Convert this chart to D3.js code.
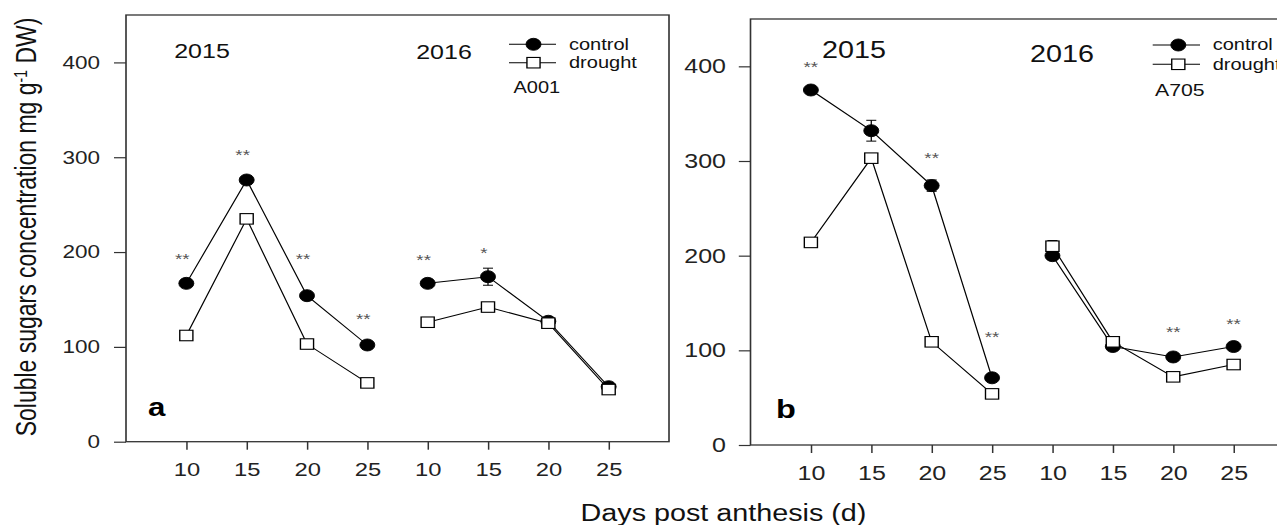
<!DOCTYPE html>
<html>
<head>
<meta charset="utf-8">
<script src="https://cdn.jsdelivr.net/npm/d3@7"></script>
<style>
  html, body { margin: 0; padding: 0; background: #fff; }
  svg { display: block; font-family: Arial, "Liberation Sans", sans-serif; }
</style>
</head>
<body>
<svg id="chart" width="1277" height="525"></svg>
<script>
// ---------------- data ----------------
const days = [10, 15, 20, 25];
const years = ["2015", "2016"];
const xTickLabels = ["10", "15", "20", "25", "10", "15", "20", "25"];
const yTicks = [0, 100, 200, 300, 400];
const seriesNames = ["control", "drought"];

// Panel a (A001): 2015 days 10-25, then 2016 days 10-25
const a_control      = [167, 276, 154, 102, 167, 174, 127, 58];
const a_controlErr   = [3, 3, 3, 3, 3, 9, 3, 2];
const a_drought      = [112, 235, 103, 62, 126, 142, 125, 55];
const a_droughtErr   = [2, 3, 2, 2, 2, 3, 3, 2];
const a_sig          = ["**", "**", "**", "**", "**", "*", "", ""];
const a_sigLevel     = [196, 306, 196, 133, 195, 202, 0, 0];

// Panel b (A705)
const b_control      = [375, 332, 274, 71, 200, 104, 93, 104];
const b_controlErr   = [3, 11, 6, 3, 3, 2, 3, 3];
const b_drought      = [214, 303, 109, 54, 210, 109, 72, 85];
const b_droughtErr   = [2, 3, 2, 2, 6, 2, 2, 2];
const b_sig          = ["**", "", "**", "**", "", "", "**", "**"];
const b_sigLevel     = [402, 0, 306, 117, 0, 0, 123, 131];

// ---------------- layout ----------------
const SX = 1.25;                 // horizontal stretch of the original figure
const px = v => v / SX;          // real pixel x -> design x
const yearShift = 20;            // 2016 points placed after 2015 on the day axis
const xVal = i => days[i % 4] + (i >= 4 ? yearShift : 0);

const panels = [
  { id: "a", left: 126, right: 669, top: 15, bottom: 441.7,
    control: a_control, controlErr: a_controlErr, drought: a_drought, droughtErr: a_droughtErr,
    sig: a_sig, sigLevel: a_sigLevel, sigDx: -4,
    yFont: 18, yLabelGap: 26, yTickLen: 12, xFont: 19, xBase: 34.3,
    yearFont: 20, yearPos: [[202, 58.3], [444, 59]],
    legend: { x0: 509, x1: 556, mx: 533.5, y: [44.3, 62.7], tx: 569, font: 16,
              name: "A001", nx: 513.5, ny: 93.3, nfont: 16 },
    label: { x: 148, y: 416, font: 25 }, frameRight: true },
  { id: "b", left: 750.5, right: 1294, top: 19, bottom: 445,
    control: b_control, controlErr: b_controlErr, drought: b_drought, droughtErr: b_droughtErr,
    sig: b_sig, sigLevel: b_sigLevel, sigDx: 0,
    yFont: 20, yLabelGap: 24.5, yTickLen: 11.7, xFont: 20, xBase: 35,
    yearFont: 23, yearPos: [[854, 58.3], [1062, 61.7]],
    legend: { x0: 1152.7, x1: 1200, mx: 1178.3, y: [45, 64.3], tx: 1212.7, font: 16,
              name: "A705", nx: 1155, ny: 96, nfont: 17 },
    label: { x: 776, y: 418.3, font: 26 }, frameRight: true }
];

const svg = d3.select("#chart");
const root = svg.append("g").attr("transform", `scale(${SX},1)`);

function drawMarker(g, type, cx, cy) {
  if (type === "control") {
    g.append("circle").attr("cx", cx).attr("cy", cy).attr("r", 6)
      .attr("fill", "#000").attr("stroke", "#000").attr("stroke-width", 0.8);
  } else {
    const s = 10.5;
    g.append("rect").attr("x", cx - s / 2).attr("y", cy - s / 2)
      .attr("width", s).attr("height", s)
      .attr("fill", "#fff").attr("stroke", "#000").attr("stroke-width", 1.1);
  }
}

panels.forEach(p => {
  const g = root.append("g");
  const x = d3.scaleLinear().domain([5, 50]).range([px(p.left), px(p.right)]);
  const y = d3.scaleLinear().domain([0, 450]).range([p.bottom, p.top]);

  // frame
  g.append("rect")
    .attr("x", px(p.left)).attr("y", p.top)
    .attr("width", px(p.right) - px(p.left)).attr("height", p.bottom - p.top)
    .attr("fill", "none").attr("stroke", "#333").attr("stroke-width", 1.3);

  // y axis
  const yAx = g.append("g").attr("transform", `translate(${px(p.left)},0)`)
    .call(d3.axisLeft(y).tickValues(yTicks).tickSize(px(p.yTickLen)).tickSizeOuter(0));
  yAx.select(".domain").remove();
  yAx.selectAll("line").attr("stroke", "#333").attr("stroke-width", 1.2);
  yAx.selectAll("text").attr("x", -px(p.yLabelGap)).attr("fill", "#222")
    .style("font-size", p.yFont + "px").style("font-family", "Arial, 'Liberation Sans', sans-serif");

  // x axis
  const xAx = g.append("g").attr("transform", `translate(0,${p.bottom})`)
    .call(d3.axisBottom(x).tickValues(d3.range(8).map(xVal))
      .tickFormat((d, i) => xTickLabels[i]).tickSize(8).tickSizeOuter(0));
  xAx.select(".domain").remove();
  xAx.selectAll("line").attr("stroke", "#333").attr("stroke-width", 1.2);
  xAx.selectAll("text").attr("y", p.xBase).attr("dy", null).attr("fill", "#222")
    .style("font-size", p.xFont + "px").style("font-family", "Arial, 'Liberation Sans', sans-serif");

  const sets = [
    { name: "control", vals: p.control, err: p.controlErr },
    { name: "drought", vals: p.drought, err: p.droughtErr }
  ];

  // lines (one per year)
  const line = d3.line().x(d => x(d.xv)).y(d => y(d.v));
  sets.forEach(s => {
    [0, 1].forEach(yr => {
      const pts = d3.range(4).map(k => ({ xv: xVal(yr * 4 + k), v: s.vals[yr * 4 + k] }));
      g.append("path").attr("d", line(pts)).attr("fill", "none")
        .attr("stroke", "#000").attr("stroke-width", 1);
    });
  });

  // error bars
  sets.forEach(s => {
    s.vals.forEach((v, i) => {
      const cx = x(xVal(i)), e = s.err[i];
      g.append("line").attr("x1", cx).attr("x2", cx)
        .attr("y1", y(v - e)).attr("y2", y(v + e)).attr("stroke", "#000").attr("stroke-width", 1);
      [v - e, v + e].forEach(t => g.append("line")
        .attr("x1", cx - 4).attr("x2", cx + 4).attr("y1", y(t)).attr("y2", y(t))
        .attr("stroke", "#000").attr("stroke-width", 1));
    });
  });

  // markers
  sets.forEach(s => {
    s.vals.forEach((v, i) => drawMarker(g, s.name, x(xVal(i)), y(v)));
  });

  // significance
  p.sig.forEach((t, i) => {
    if (!t) return;
    g.append("text").attr("x", x(xVal(i)) + px(p.sigDx)).attr("y", y(p.sigLevel[i]) + 8)
      .attr("text-anchor", "middle").attr("fill", "#555")
      .style("font-size", "15px").text(t);
  });

  // year labels
  years.forEach((yrTxt, k) => {
    g.append("text").attr("x", px(p.yearPos[k][0])).attr("y", p.yearPos[k][1])
      .attr("text-anchor", "middle").attr("fill", "#111")
      .style("font-size", p.yearFont + "px").text(yrTxt);
  });

  // legend
  const L = p.legend;
  seriesNames.forEach((nm, k) => {
    g.append("line").attr("x1", px(L.x0)).attr("x2", px(L.x1))
      .attr("y1", L.y[k]).attr("y2", L.y[k]).attr("stroke", "#000").attr("stroke-width", 1);
    drawMarker(g, nm, px(L.mx), L.y[k]);
    g.append("text").attr("x", px(L.tx)).attr("y", L.y[k] + 5.5).attr("fill", "#111")
      .style("font-size", L.font + "px").text(nm);
  });
  g.append("text").attr("x", px(L.nx)).attr("y", L.ny).attr("fill", "#111")
    .style("font-size", L.nfont + "px").text(L.name);

  // panel letter
  g.append("text").attr("x", px(p.label.x)).attr("y", p.label.y)
    .attr("fill", "#000").style("font-size", p.label.font + "px").style("font-weight", "bold")
    .text(p.id);
});

// axis titles
const yt = root.append("text")
  .attr("transform", `translate(${px(36)},227) rotate(-90)`)
  .attr("text-anchor", "middle").attr("fill", "#111").style("font-size", "23px");
yt.append("tspan").text("Soluble sugars concentration mg g");
yt.append("tspan").attr("baseline-shift", "super").style("font-size", "14px").text("-1");
yt.append("tspan").text(" DW)");

root.append("text").attr("x", px(723.5)).attr("y", 521)
  .attr("text-anchor", "middle").attr("fill", "#111").style("font-size", "23px")
  .text("Days post anthesis (d)");
</script>
</body>
</html>
